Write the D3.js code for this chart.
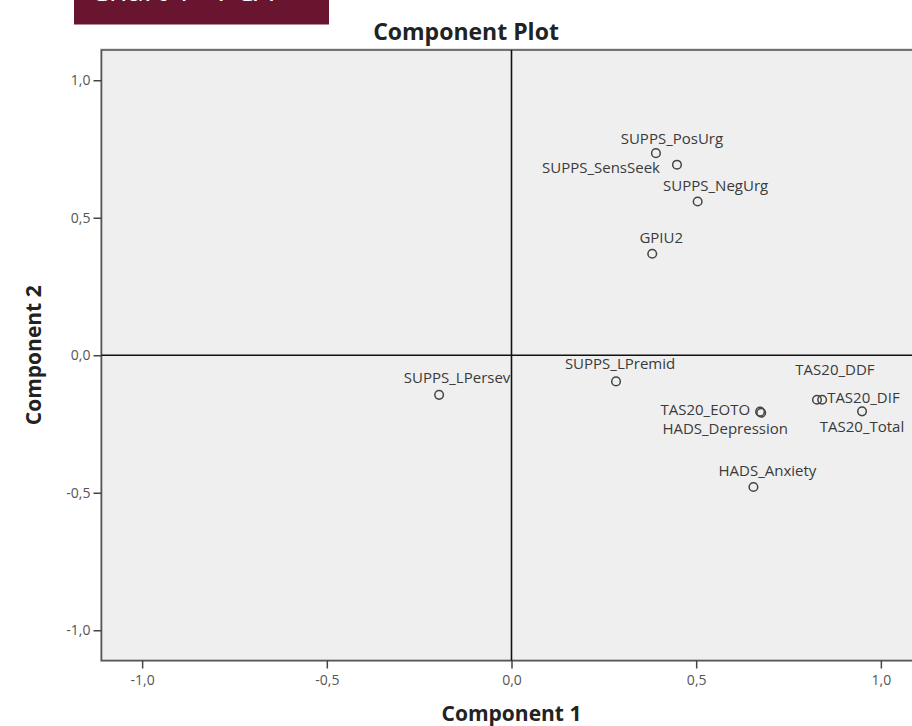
<!DOCTYPE html>
<html>
<head>
<meta charset="utf-8">
<script src="https://cdn.jsdelivr.net/npm/d3@7"></script>
<style>
body { margin: 0; background: white; overflow: hidden; }
</style>
</head>
<body>
<script>
// loadings
var varNames = ["SUPPS_PosUrg", "SUPPS_SensSeek", "SUPPS_NegUrg", "GPIU2", "SUPPS_LPersev", "SUPPS_LPremid",
  "TAS20_EOTO", "HADS_Depression", "TAS20_DDF", "TAS20_DIF", "TAS20_Total", "HADS_Anxiety"]
var comp1 = [0.391, 0.448, 0.504, 0.381, -0.196, 0.283, 0.673, 0.676, 0.827, 0.841, 0.949, 0.655]
var comp2 = [0.735, 0.693, 0.559, 0.369, -0.144, -0.095, -0.205, -0.209, -0.162, -0.162, -0.204, -0.479]
var xTicks = [-1, -0.5, 0, 0.5, 1]
var yTicks = [-1, -0.5, 0, 0.5, 1]

// where each label sits relative to its point (px)
var labelSpots = [
  {dx: 16, dy: -9, a: "middle"}, {dx: -17, dy: 8, a: "end"}, {dx: 18, dy: -11, a: "middle"},
  {dx: 9, dy: -11, a: "middle"}, {dx: 18, dy: -12, a: "middle"}, {dx: 4, dy: -12, a: "middle"},
  {dx: -10, dy: 3, a: "end"}, {dx: -36, dy: 21, a: "middle"}, {dx: 18, dy: -25, a: "middle"},
  {dx: 5, dy: 3, a: "start"}, {dx: 0, dy: 21, a: "middle"}, {dx: 14, dy: -11, a: "middle"}
]

var wd = 912, ht = 726

var svg = d3.select("body").append("svg")
  .attr("width", wd)
  .attr("height", ht)
  .style("font-family", "'Open Sans', sans-serif")

// header tab, cut off at the top of the page
svg.append("rect")
  .attr("x", 74).attr("y", 0)
  .attr("width", 255).attr("height", 24.5)
  .attr("fill", "#6a1530")
svg.append("text")
  .attr("x", 90).attr("y", 1)
  .attr("fill", "white")
  .style("font-size", "30px")
  .text("Chart 1 - PCA")

var x = d3.scaleLinear().domain([-1.11, 1.11]).range([101.5, 921.5])
var y = d3.scaleLinear().domain([-1.11, 1.11]).range([660.5, 50])

var loc = d3.formatLocale({decimal: ",", thousands: ".", grouping: [3], currency: ["", ""], minus: "-"})
var fmt = loc.format(".1f")

// plot frame
svg.append("rect")
  .attr("x", x.range()[0] - 1).attr("y", y.range()[1] - 1)
  .attr("width", x.range()[1] - x.range()[0] + 2)
  .attr("height", y.range()[0] - y.range()[1] + 2)
  .attr("fill", "none")
  .attr("stroke", "#c8c8c8")
  .attr("stroke-width", 1)
svg.append("rect")
  .attr("x", x.range()[0]).attr("y", y.range()[1])
  .attr("width", x.range()[1] - x.range()[0])
  .attr("height", y.range()[0] - y.range()[1])
  .attr("fill", "#efefef")
  .attr("stroke", "#555")
  .attr("stroke-width", 1.6)

var xAxis = svg.append("g")
  .attr("transform", "translate(0," + y.range()[0] + ")")
  .call(d3.axisBottom(x).tickValues(xTicks).tickFormat(fmt).tickSize(8).tickPadding(7))
var yAxis = svg.append("g")
  .attr("transform", "translate(" + x.range()[0] + ",0)")
  .call(d3.axisLeft(y).tickValues(yTicks).tickFormat(fmt).tickSize(8).tickPadding(3))

svg.selectAll(".domain").remove()
svg.selectAll(".tick line").attr("stroke", "#444").attr("stroke-width", 1.5)
svg.selectAll(".tick text")
  .attr("fill", "#555")
  .style("font-family", "'Open Sans', sans-serif")
  .style("font-size", "14px")

// zero reference lines
svg.append("line")
  .attr("x1", x(0)).attr("x2", x(0))
  .attr("y1", y.range()[1]).attr("y2", y.range()[0])
  .attr("stroke", "#111").attr("stroke-width", 1.6)
svg.append("line")
  .attr("x1", x.range()[0]).attr("x2", x.range()[1])
  .attr("y1", y(0)).attr("y2", y(0))
  .attr("stroke", "#111").attr("stroke-width", 1.6)

var pts = varNames.map(function(n, i) { return {name: n, c1: comp1[i], c2: comp2[i], spot: labelSpots[i]} })

svg.append("g").selectAll("circle")
  .data(pts)
  .enter().append("circle")
  .attr("cx", function(d) { return x(d.c1) })
  .attr("cy", function(d) { return y(d.c2) })
  .attr("r", 4.3)
  .attr("fill", "none")
  .attr("stroke", "#444")
  .attr("stroke-width", 1.5)

svg.append("g").selectAll("text")
  .data(pts)
  .enter().append("text")
  .attr("x", function(d) { return x(d.c1) + d.spot.dx })
  .attr("y", function(d) { return y(d.c2) + d.spot.dy })
  .attr("text-anchor", function(d) { return d.spot.a })
  .attr("fill", "#3a3a3a")
  .style("font-size", "15px")
  .text(function(d) { return d.name })

// titles
svg.append("text")
  .attr("x", 466).attr("y", 40)
  .attr("text-anchor", "middle")
  .attr("fill", "#222")
  .style("font-size", "23px").style("font-weight", "bold")
  .text("Component Plot")
svg.append("text")
  .attr("x", x(0)).attr("y", 721)
  .attr("text-anchor", "middle")
  .attr("fill", "#222")
  .style("font-size", "21px").style("font-weight", "bold")
  .text("Component 1")
svg.append("text")
  .attr("transform", "translate(41," + y(0) + ") rotate(-90)")
  .attr("text-anchor", "middle")
  .attr("fill", "#222")
  .style("font-size", "21px").style("font-weight", "bold")
  .text("Component 2")
</script>
</body>
</html>
